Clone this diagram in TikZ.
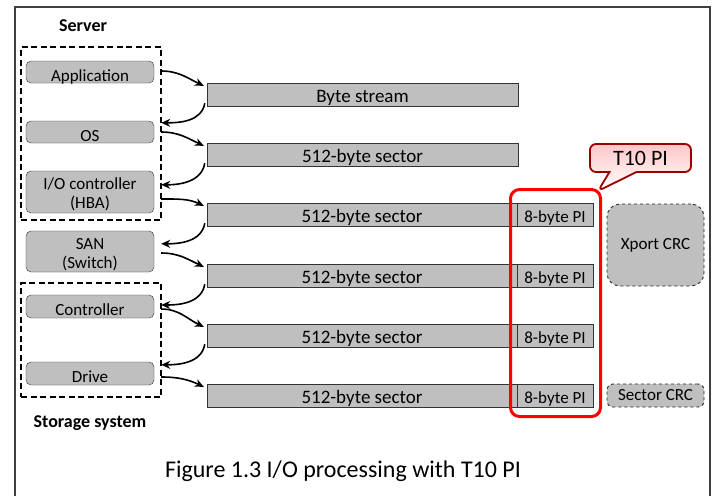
\documentclass[tikz,border=0pt]{standalone}
\usepackage{fontspec}
\setmainfont{Carlito}
\usetikzlibrary{arrows.meta,shapes.callouts}

\begin{document}
\begin{tikzpicture}[x=1pt,y=-1pt,
  unit/.style={draw=black!80,fill=black!25,rounded corners=5pt,minimum width=128pt,inner sep=0pt,align=center,
    text height=18pt,text depth=0pt,font=\fontsize{17}{19}\selectfont},
  unit2/.style={unit,text height=33pt},
  bar/.style={draw=black!80,fill=black!25,minimum height=23pt,inner sep=0pt,text height=15pt,text depth=0pt,
    font=\fontsize{19}{19}\selectfont},
  pibar/.style={bar,minimum width=76pt,font=\fontsize{17}{17}\selectfont},
  crc/.style={draw=black!85,line width=0.9pt,dashed,fill=black!25,minimum width=97pt,inner sep=0pt,font=\fontsize{17}{17}\selectfont},
  group/.style={draw,line width=1.3pt,dash pattern=on 6pt off 3.5pt,inner sep=0pt},
  flow/.style={line width=1.6pt,-{Stealth[length=9pt,width=8pt]}}]
\useasboundingbox (0,0) rectangle (718,496);
\draw[black!75,line width=1.5pt] (15,496) -- (15,7) -- (710,7) -- (710,496);

% server side
\node[font=\fontsize{18}{18}\selectfont\bfseries] (srvlbl) at (83,26) {Server};
\node[group,minimum width=140pt,minimum height=173pt] (server) at (91,133.5) {};
\node[unit,minimum height=22pt] (app) at (90,72) {Application};
\node[unit,minimum height=22pt] (os) at (90,132) {OS};
\node[unit2,minimum height=42pt] (hba) at (90,192) {I/O controller\\(HBA)};
\node[unit2,minimum height=41pt] (san) at (90,251.5) {SAN\\(Switch)};

% storage side
\node[group,minimum width=140pt,minimum height=114pt] (storage) at (91,340) {};
\node[unit,minimum height=23pt] (ctrl) at (90,306.5) {Controller};
\node[unit,minimum height=23pt] (drive) at (90,373.5) {Drive};
\node[font=\fontsize{18}{18}\selectfont\bfseries] (stolbl) at (90,423) {Storage system};

% data
\node[bar,minimum width=311pt] (bytes) at (362.5,94.5) {Byte stream};
\node[bar,minimum width=311pt] (sec1) at (362.5,154.5) {512-byte sector};
\node[bar,minimum width=310pt] (sec2) at (362,214.5) {512-byte sector};
\node[pibar] (pi2) at (555,214.5) {8-byte PI};
\node[bar,minimum width=310pt] (sec3) at (362,275.5) {512-byte sector};
\node[pibar] (pi3) at (555,275.5) {8-byte PI};
\node[bar,minimum width=310pt] (sec4) at (362,335.5) {512-byte sector};
\node[pibar] (pi4) at (555,335.5) {8-byte PI};
\node[bar,minimum width=310pt] (sec5) at (362,395.5) {512-byte sector};
\node[pibar] (pi5) at (555,395.5) {8-byte PI};

\node[crc,minimum height=82pt,rounded corners=13pt] (xport) at (655.5,245) {Xport CRC};
\node[crc,minimum height=23pt,rounded corners=6pt] (seccrc) at (655.5,395.5) {Sector CRC};

% T10 PI
\node[draw=red,line width=3pt,rounded corners=9pt,minimum width=90pt,minimum height=227pt,inner sep=0pt] (t10) at (555.5,303) {};
\coordinate (tip) at (598,191);
\node[rectangle callout,callout absolute pointer={(tip)},callout pointer width=27pt,
  rounded corners=6pt,draw=red!60!black,line width=1.8pt,top color=red!22,bottom color=white,
  minimum width=101pt,minimum height=28pt,inner sep=0pt,font=\fontsize{22}{22}\selectfont] (tag) at (640.5,158) {T10 PI};

% flow
\draw[flow] ([xshift=7pt,yshift=1pt]app.east) to[out=0,in=155] ([xshift=-3pt,yshift=-3pt]bytes.north west);
\draw[flow] ([xshift=-2pt,yshift=3pt]bytes.south west) to[out=-100,in=0] ([xshift=7pt,yshift=-2pt]os.north east);
\draw[flow] ([xshift=7pt]os.east) to[out=0,in=155] ([xshift=-3pt,yshift=-3pt]sec1.north west);
\draw[flow] ([xshift=-2pt,yshift=3pt]sec1.south west) to[out=-100,in=0] ([xshift=7pt,yshift=-14pt]hba.north east);
\draw[flow] ([xshift=7pt,yshift=-7pt]hba.east) to[out=0,in=155] ([xshift=-3pt,yshift=-3pt]sec2.north west);
\draw[flow] ([xshift=-2pt,yshift=3pt]sec2.south west) to[out=-100,in=0] ([xshift=7pt,yshift=-13pt]san.north east);
\draw[flow] ([xshift=7pt,yshift=-1.5pt]san.east) to[out=0,in=155] ([xshift=-3pt,yshift=-3pt]sec3.north west);
\draw[flow] ([xshift=-2pt,yshift=3pt]sec3.south west) to[out=-100,in=0] ([xshift=7pt,yshift=1.5pt]ctrl.east);
\draw[flow] ([xshift=7pt,yshift=-2.5pt]ctrl.east) to[out=0,in=155] ([xshift=-3pt,yshift=-3pt]sec4.north west);
\draw[flow] ([xshift=-2pt,yshift=3pt]sec4.south west) to[out=-100,in=0] ([xshift=7pt,yshift=-3pt]drive.north east);
\draw[flow] ([xshift=7pt,yshift=-3.5pt]drive.east) to[out=0,in=155] ([xshift=-3pt,yshift=-3pt]sec5.north west);

\node[font=\fontsize{24}{24}\selectfont] (cap) at (343,471) {Figure 1.3 I/O processing with T10 PI};
\end{tikzpicture}
\end{document}
